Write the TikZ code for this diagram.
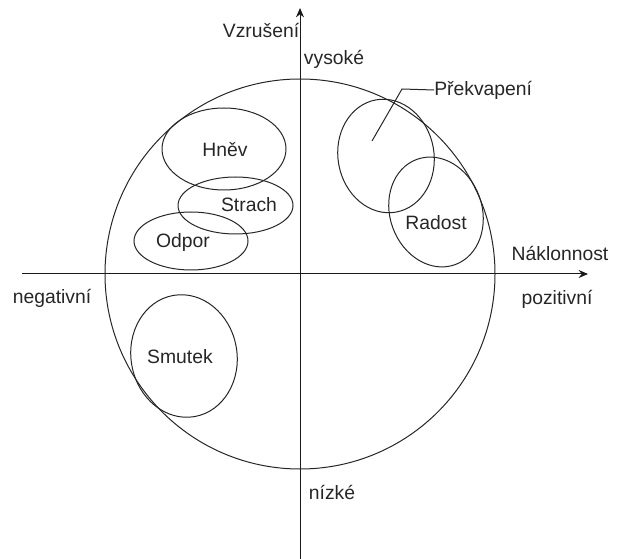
\documentclass[tikz,border=0pt]{standalone}
\usepackage{fontspec}
\setmainfont{Liberation Sans}
\usetikzlibrary{arrows.meta, positioning}

\begin{document}
\begin{tikzpicture}[
    x=0.75pt, y=-0.75pt,
    axis/.style={-{Stealth[length=7pt, width=6pt]}, line width=0.75pt, draw=black!90},
    emo/.style={draw=black!85, line width=0.75pt},
    lbl/.style={font=\fontsize{14.5}{16}\selectfont, text=black!85, inner sep=0pt}
]
    \useasboundingbox (0,0) rectangle (617,559);

    % axes
    \coordinate (xl) at (22,274);
    \coordinate (xr) at (588,274);
    \coordinate (yb) at (300,559);
    \coordinate (yt) at (300,8);
    \draw[axis] (xl) -- (xr);
    \draw[axis] (yb) -- (yt);

    % outer circle
    \draw[emo] (300,274) circle [radius=195];

    % emotions
    \draw[emo] (224,149) ellipse [x radius=62, y radius=41];
    \draw[emo] (235.5,205.5) ellipse [x radius=57.5, y radius=28.5];
    \draw[emo] (191,241) ellipse [x radius=57, y radius=29];
    \draw[emo, rotate around={10:(184,356)}] (184,356) ellipse [x radius=53, y radius=61.5];
    \draw[emo, rotate around={10:(386,156)}] (386,156) ellipse [x radius=48, y radius=57];
    \draw[emo, rotate around={20:(436,212)}] (436,212) ellipse [x radius=46, y radius=56];

    \node[lbl] (hnev) at (225,150) {Hněv};
    \node[lbl] (strach) at (249,205) {Strach};
    \node[lbl] (odpor) at (183,243) {Odpor};
    \node[lbl] (smutek) at (180,357) {Smutek};
    \node[lbl] (radost) at (436,223) {Radost};
    \node[lbl, anchor=west] (prekv) at (434,90) {Překvapení};

    % leader
    \coordinate (pkin) at (372,141);
    \coordinate (pkbend) at (402,89);
    \draw[emo] (pkin) -- (pkbend) -- (prekv.west);

    % axis labels
    \node[lbl] (vzruseni) at (261,30) {Vzrušení};
    \node[lbl] (vysoke) at (334,59) {vysoké};
    \node[lbl] (nizke) at (332,492) {nízké};
    \node[lbl] (naklon) at (560,253) {Náklonnost};
    \node[lbl] (pozit) at (557,299) {pozitivní};
    \node[lbl] (negat) at (52,298) {negativní};
\end{tikzpicture}
\end{document}
